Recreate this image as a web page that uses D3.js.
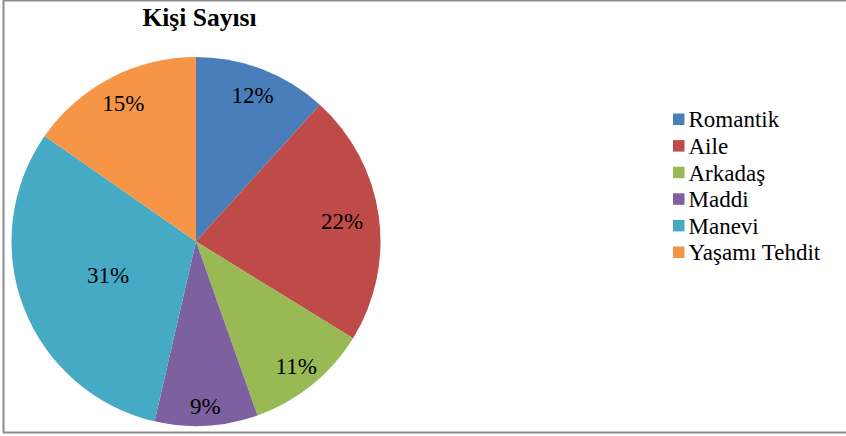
<!DOCTYPE html>
<html>
<head>
<meta charset="utf-8">
<script src="https://cdn.jsdelivr.net/npm/d3@7"></script>
<style>
  html, body { margin: 0; padding: 0; background: #fff; }
  svg { display: block; }
  svg text { font-family: "Liberation Serif", "Times New Roman", Times, "DejaVu Serif", serif; }
</style>
</head>
<body>
<svg id="chart" width="846" height="436"></svg>
<script>
// Data (counts; labels show rounded percentages)
const categories = ["Romantik", "Aile", "Arkadaş", "Maddi", "Manevi", "Yaşamı Tehdit"];
const values = [26, 49, 24, 20, 69, 34];
const title = "Kişi Sayısı";

// Styling / layout
const colors = ["#4A7EBB", "#BE4B48", "#98B954", "#7D60A0", "#46AAC5", "#F69546"];
const labelRadiusFactor = [0.853, 0.80, 0.864, 0.89, 0.51, 0.85];

const W = 846, H = 436;
const cx = 196, cy = 241.5, R = 184.5;

const svg = d3.select("#chart");

// border
svg.append("rect")
  .attr("x", 3.5).attr("y", 0.5)
  .attr("width", 860).attr("height", 432)
  .attr("fill", "#fff")
  .attr("stroke", "#8c8c8c")
  .attr("stroke-width", 2);

// title
svg.append("text")
  .attr("x", 199.5).attr("y", 25.5)
  .attr("text-anchor", "middle")
  .style("font-weight", "bold")
  .style("font-size", "25.5px")
  .attr("fill", "#000")
  .text(title);

const total = d3.sum(values);
const data = categories.map((c, i) => ({ name: c, value: values[i], i }));

const pie = d3.pie().value(d => d.value).sort(null);
const arcs = pie(data);
const arc = d3.arc().innerRadius(0).outerRadius(R);

const g = svg.append("g").attr("transform", `translate(${cx},${cy})`);

g.selectAll("path.slice")
  .data(arcs)
  .enter().append("path")
  .attr("class", "slice")
  .attr("d", arc)
  .attr("fill", d => colors[d.data.i]);

// labels
g.selectAll("text.lbl")
  .data(arcs)
  .enter().append("text")
  .attr("class", "lbl")
  .attr("transform", d => {
    const a = (d.startAngle + d.endAngle) / 2;
    const r = R * labelRadiusFactor[d.data.i];
    return `translate(${r * Math.sin(a)},${-r * Math.cos(a)})`;
  })
  .attr("dy", "0.35em")
  .attr("text-anchor", "middle")
  .style("font-size", "23px")
  .attr("fill", "#000")
  .text(d => Math.round(d.data.value / total * 100) + "%");

// legend
const legend = svg.append("g").attr("transform", "translate(673,113.5)");
const rowH = 26.6;
const items = legend.selectAll("g.item")
  .data(categories)
  .enter().append("g")
  .attr("class", "item")
  .attr("transform", (d, i) => `translate(0,${i * rowH})`);

items.append("rect")
  .attr("x", 0).attr("y", 0)
  .attr("width", 11.5).attr("height", 11.5)
  .attr("fill", (d, i) => colors[i]);

items.append("text")
  .attr("x", 15.5).attr("y", 13.8)
  .style("font-size", "23px")
  .attr("fill", "#000")
  .text(d => d);
</script>
</body>
</html>
